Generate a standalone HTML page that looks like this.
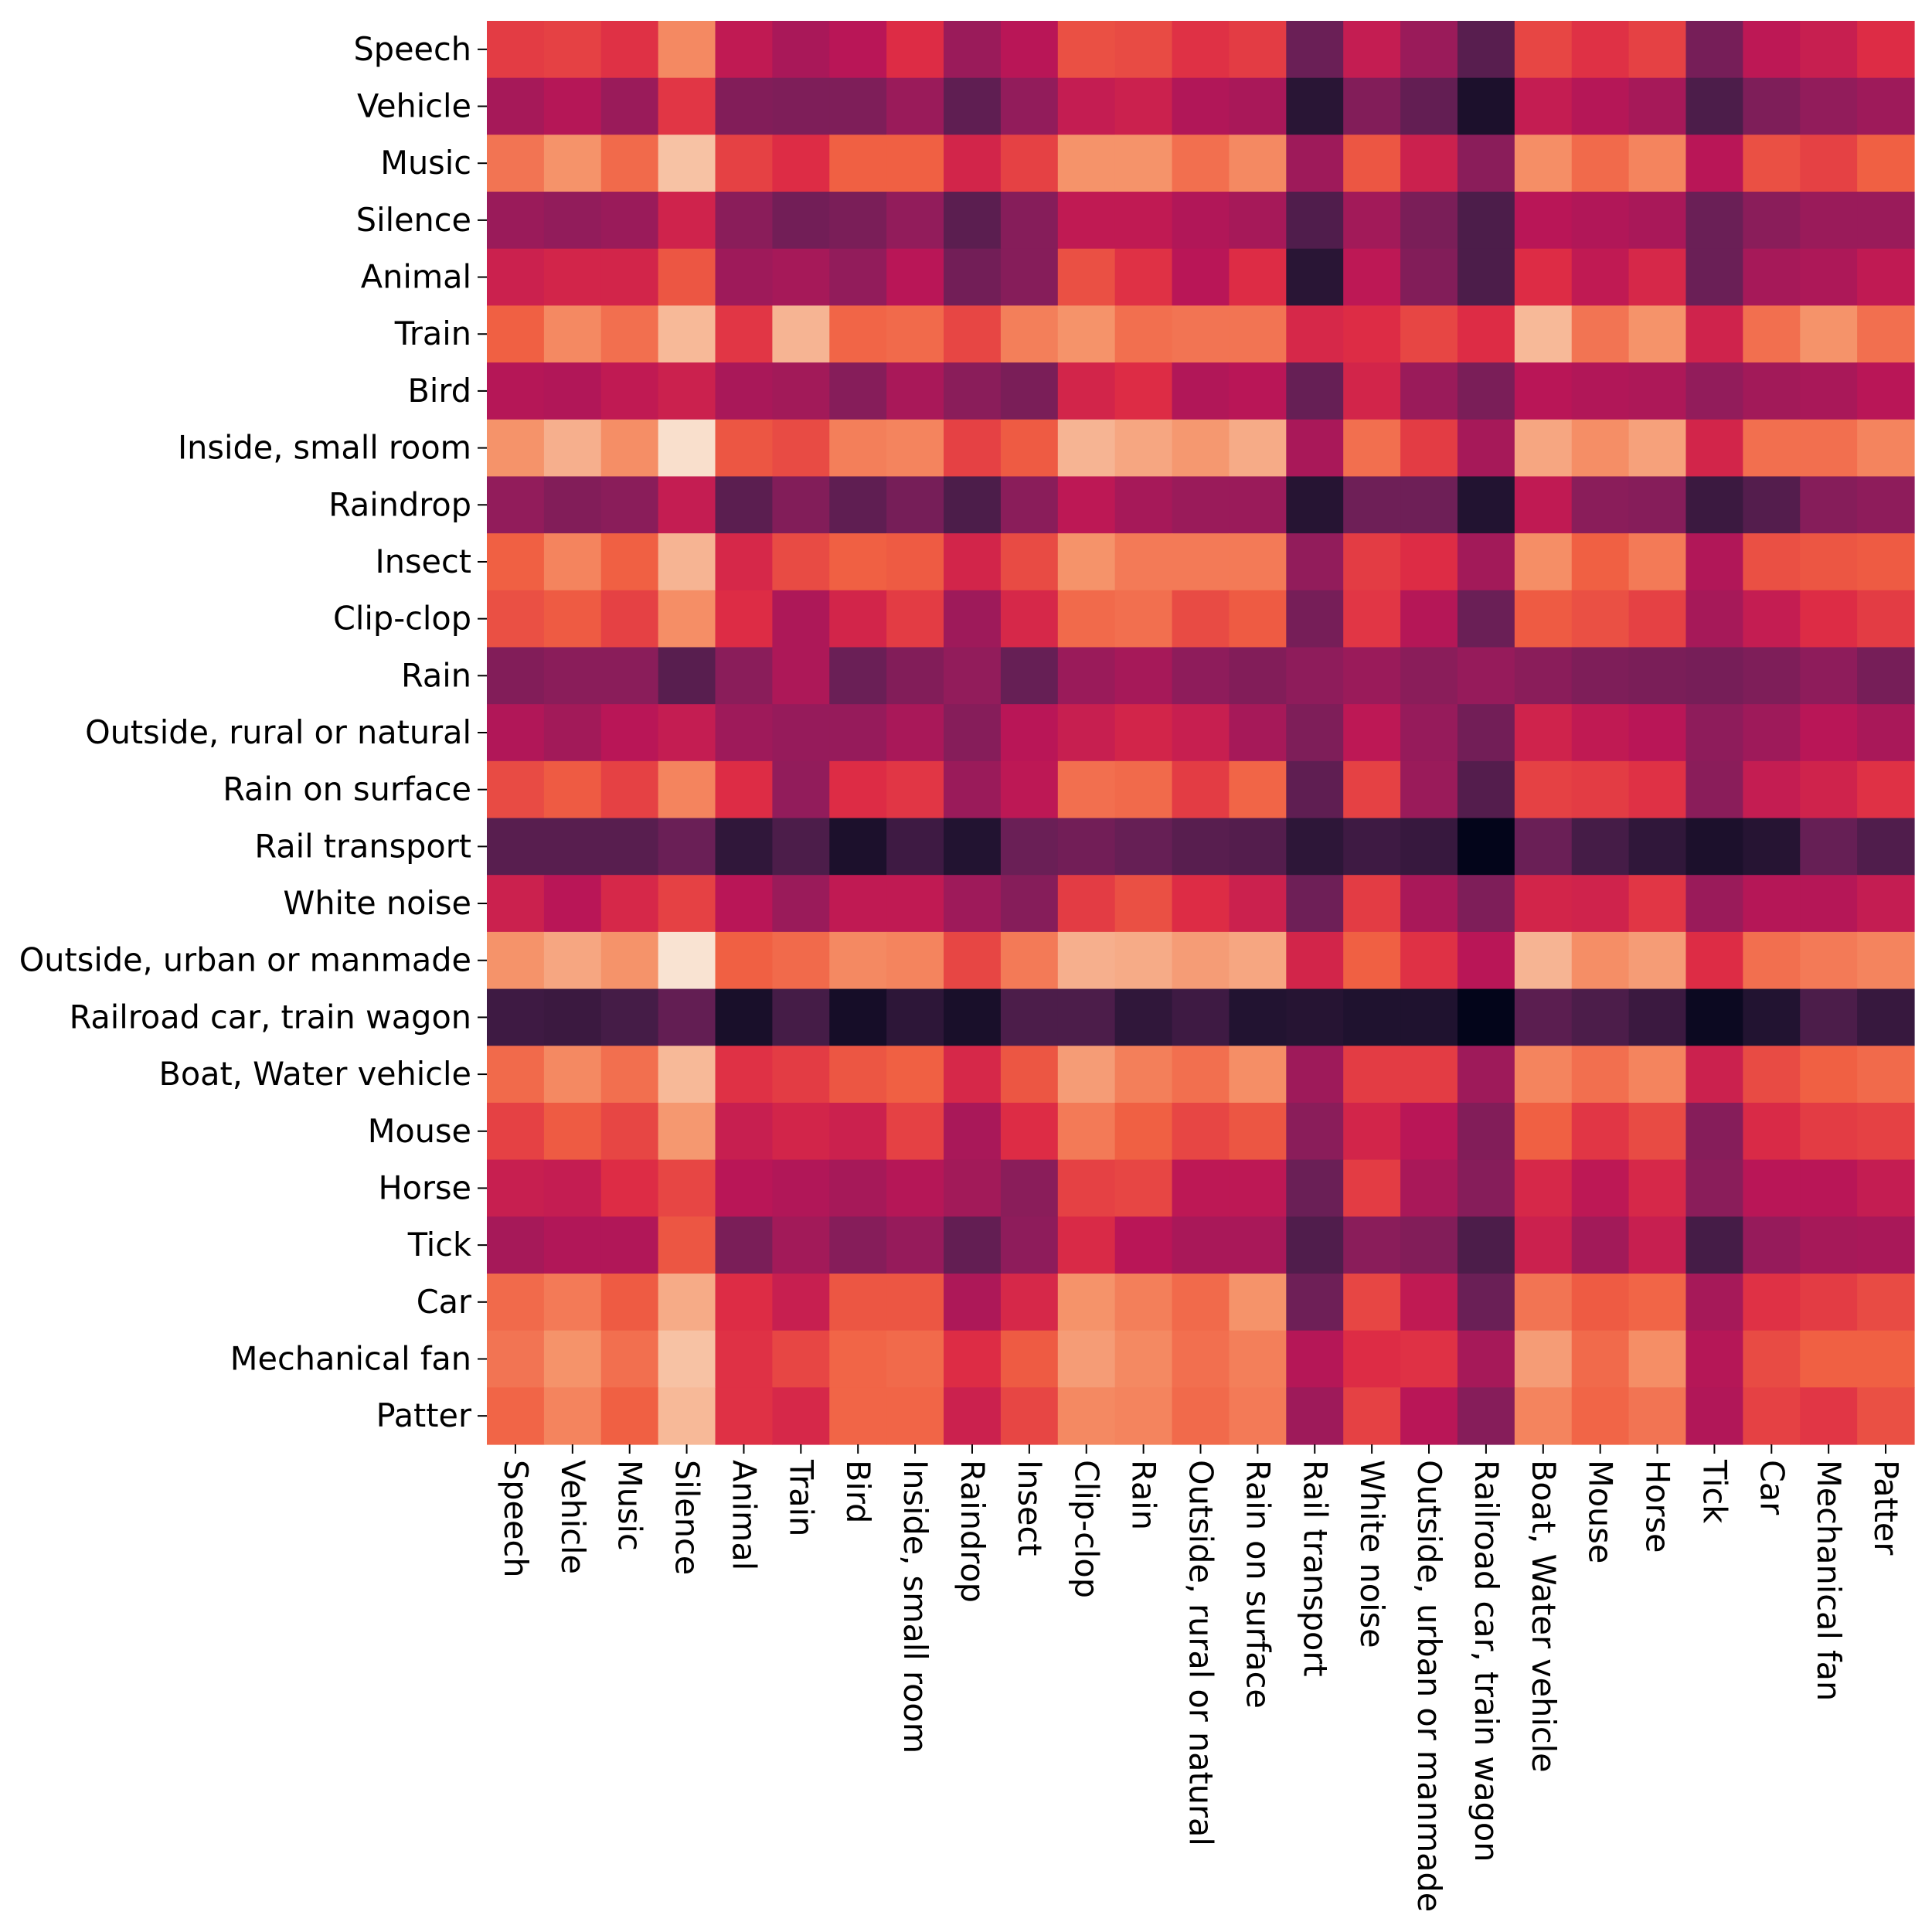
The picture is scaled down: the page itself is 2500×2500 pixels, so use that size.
<!DOCTYPE html>
<html><head><meta charset="utf-8"><style>
html,body{margin:0;padding:0;background:#fff;}
svg{display:block;}
text{font-family:"DejaVu Sans","Liberation Sans",sans-serif;font-size:41.4px;fill:#000;}
</style></head><body>
<svg id="chart" width="2500" height="2500" xmlns="http://www.w3.org/2000/svg">
<g id="cells"></g>
<g id="yaxis"></g>
<g id="xaxis"></g>
</svg>
<script>
const labels = ["Speech","Vehicle","Music","Silence","Animal","Train","Bird","Inside, small room","Raindrop","Insect","Clip-clop","Rain","Outside, rural or natural","Rain on surface","Rail transport","White noise","Outside, urban or manmade","Railroad car, train wagon","Boat, Water vehicle","Mouse","Horse","Tick","Car","Mechanical fan","Patter"];
const rowSpeech   = [0.63,0.64,0.61,0.78,0.52,0.46,0.5,0.6,0.42,0.5,0.67,0.66,0.61,0.63,0.3,0.53,0.42,0.25,0.65,0.61,0.64,0.33,0.51,0.54,0.6];
const rowVehicle  = [0.45,0.49,0.42,0.62,0.36,0.35,0.35,0.42,0.27,0.4,0.53,0.55,0.48,0.46,0.12,0.36,0.28,0.08,0.53,0.49,0.45,0.22,0.35,0.4,0.43];
const rowMusic    = [0.74,0.8,0.72,0.9,0.64,0.6,0.7,0.7,0.57,0.64,0.8,0.8,0.73,0.78,0.43,0.68,0.55,0.38,0.79,0.72,0.77,0.5,0.67,0.64,0.7];
const rowSilence  = [0.42,0.4,0.42,0.56,0.38,0.32,0.34,0.4,0.26,0.37,0.52,0.52,0.48,0.45,0.23,0.44,0.34,0.22,0.5,0.48,0.46,0.3,0.38,0.42,0.42];
const rowAnimal   = [0.55,0.57,0.57,0.68,0.43,0.45,0.4,0.5,0.32,0.37,0.67,0.61,0.5,0.6,0.12,0.51,0.36,0.22,0.6,0.52,0.58,0.3,0.45,0.47,0.52];
const rowTrain    = [0.7,0.78,0.73,0.88,0.62,0.87,0.71,0.72,0.65,0.76,0.8,0.73,0.74,0.74,0.58,0.6,0.65,0.6,0.88,0.74,0.8,0.56,0.73,0.8,0.73];
const rowBird     = [0.49,0.48,0.52,0.55,0.46,0.44,0.37,0.46,0.38,0.34,0.57,0.6,0.48,0.5,0.29,0.57,0.42,0.34,0.5,0.48,0.47,0.4,0.44,0.46,0.5];
const rowInside   = [0.8,0.86,0.79,0.97,0.68,0.66,0.76,0.77,0.64,0.69,0.87,0.84,0.81,0.85,0.46,0.73,0.63,0.45,0.84,0.79,0.83,0.57,0.73,0.73,0.77];
const rowRaindrop = [0.4,0.36,0.38,0.53,0.26,0.36,0.27,0.33,0.22,0.38,0.51,0.45,0.42,0.42,0.11,0.31,0.31,0.1,0.52,0.38,0.37,0.17,0.24,0.37,0.39];
const rowInsect   = [0.7,0.77,0.7,0.87,0.58,0.66,0.7,0.69,0.57,0.66,0.8,0.75,0.75,0.75,0.4,0.63,0.6,0.44,0.79,0.7,0.75,0.48,0.67,0.68,0.69];
const rowClipclop = [0.67,0.69,0.64,0.79,0.6,0.47,0.57,0.63,0.43,0.58,0.72,0.73,0.66,0.69,0.33,0.62,0.49,0.3,0.69,0.67,0.64,0.45,0.53,0.6,0.63];
const rowRain     = [0.36,0.38,0.38,0.25,0.38,0.47,0.3,0.36,0.4,0.29,0.42,0.45,0.39,0.36,0.39,0.42,0.38,0.41,0.38,0.35,0.34,0.33,0.35,0.39,0.33];
const rowOutRural = [0.48,0.44,0.5,0.53,0.43,0.41,0.41,0.46,0.37,0.5,0.54,0.57,0.54,0.45,0.35,0.51,0.41,0.32,0.56,0.52,0.5,0.39,0.43,0.5,0.46];
const rowRainSurf = [0.66,0.69,0.64,0.77,0.6,0.4,0.6,0.62,0.42,0.51,0.73,0.72,0.63,0.71,0.27,0.64,0.42,0.24,0.64,0.63,0.61,0.38,0.53,0.56,0.61];
const rowRailT    = [0.25,0.25,0.25,0.3,0.14,0.22,0.08,0.18,0.1,0.3,0.32,0.29,0.25,0.24,0.13,0.18,0.16,0.0,0.3,0.2,0.14,0.08,0.11,0.29,0.23];
const rowWhiteN   = [0.55,0.5,0.58,0.64,0.5,0.42,0.52,0.52,0.43,0.37,0.63,0.67,0.6,0.55,0.31,0.63,0.46,0.35,0.57,0.56,0.62,0.42,0.49,0.49,0.53];
const rowOutUrban = [0.8,0.84,0.8,0.98,0.7,0.72,0.78,0.77,0.65,0.75,0.86,0.85,0.82,0.84,0.57,0.7,0.61,0.5,0.87,0.79,0.82,0.6,0.73,0.75,0.77];
const rowRailroad = [0.18,0.17,0.2,0.28,0.07,0.2,0.06,0.13,0.07,0.22,0.22,0.14,0.18,0.1,0.11,0.09,0.09,0.0,0.26,0.22,0.17,0.03,0.1,0.22,0.16];
const rowBoat     = [0.72,0.78,0.73,0.88,0.61,0.63,0.68,0.7,0.58,0.68,0.82,0.76,0.73,0.79,0.43,0.63,0.63,0.43,0.77,0.73,0.77,0.55,0.66,0.7,0.72];
const rowMouse    = [0.64,0.69,0.65,0.81,0.54,0.57,0.55,0.64,0.46,0.6,0.75,0.7,0.65,0.68,0.38,0.57,0.5,0.36,0.7,0.62,0.66,0.37,0.59,0.63,0.64];
const rowHorse    = [0.54,0.53,0.6,0.65,0.5,0.48,0.45,0.49,0.44,0.38,0.64,0.65,0.51,0.51,0.3,0.63,0.46,0.37,0.58,0.51,0.58,0.38,0.5,0.5,0.53];
const rowTick     = [0.45,0.48,0.48,0.68,0.34,0.44,0.37,0.41,0.28,0.39,0.59,0.5,0.46,0.46,0.23,0.38,0.36,0.22,0.55,0.44,0.54,0.2,0.41,0.45,0.46];
const rowCar      = [0.72,0.75,0.69,0.85,0.6,0.54,0.68,0.68,0.47,0.58,0.8,0.76,0.72,0.8,0.31,0.65,0.52,0.3,0.74,0.69,0.71,0.45,0.61,0.63,0.66];
const rowMechFan  = [0.74,0.8,0.73,0.9,0.61,0.65,0.71,0.72,0.6,0.69,0.82,0.78,0.73,0.76,0.49,0.6,0.61,0.45,0.82,0.72,0.79,0.49,0.66,0.7,0.7];
const rowPatter   = [0.71,0.77,0.7,0.88,0.61,0.58,0.71,0.71,0.55,0.65,0.78,0.77,0.72,0.75,0.43,0.64,0.5,0.37,0.77,0.71,0.74,0.48,0.64,0.62,0.67];
const matrix = [rowSpeech,rowVehicle,rowMusic,rowSilence,rowAnimal,rowTrain,rowBird,rowInside,rowRaindrop,rowInsect,rowClipclop,rowRain,rowOutRural,rowRainSurf,rowRailT,rowWhiteN,rowOutUrban,rowRailroad,rowBoat,rowMouse,rowHorse,rowTick,rowCar,rowMechFan,rowPatter];

const rocket = [[3,5,26],[34,19,49],[69,28,71],[106,31,86],[146,28,91],[185,22,87],[221,44,69],[240,96,67],[245,147,106],[247,194,164],[250,235,221]];
function color(v){
  v=Math.max(0,Math.min(1,v));
  const p=v*10, i=Math.min(9,Math.floor(p)), t=p-i;
  const a=rocket[i], b=rocket[i+1];
  return 'rgb('+a.map((c,k)=>Math.round(c+(b[k]-c)*t)).join(',')+')';
}
const L=630, T=27, R=2477, B=1869;
const n=labels.length;
const cw=(R-L)/n, ch=(B-T)/n;
const xPos=j=>L+j*cw, yPos=i=>T+i*ch;
const NS='http://www.w3.org/2000/svg';
const cells=document.getElementById('cells');
const yaxis=document.getElementById('yaxis');
const xaxis=document.getElementById('xaxis');
matrix.forEach((row,i)=>row.forEach((v,j)=>{
  const r=document.createElementNS(NS,'rect');
  r.setAttribute('x',xPos(j)); r.setAttribute('y',yPos(i));
  r.setAttribute('width',cw+0.6); r.setAttribute('height',ch+0.6);
  r.setAttribute('fill',color(v));
  
  
  cells.appendChild(r);
}));
labels.forEach((lab,i)=>{
  const cy=yPos(i)+ch/2;
  const tk=document.createElementNS(NS,'line');
  tk.setAttribute('x1',L-12); tk.setAttribute('x2',L); tk.setAttribute('y1',cy); tk.setAttribute('y2',cy);
  tk.setAttribute('stroke','#000'); tk.setAttribute('stroke-width','2');
  
  
  yaxis.appendChild(tk);
  const t=document.createElementNS(NS,'text');
  t.setAttribute('x',L-20); t.setAttribute('y',cy);
  t.setAttribute('text-anchor','end'); t.setAttribute('dominant-baseline','central');
  t.textContent=lab;
  
  
  yaxis.appendChild(t);
});
labels.forEach((lab,j)=>{
  const cx=xPos(j)+cw/2;
  const tk=document.createElementNS(NS,'line');
  tk.setAttribute('x1',cx); tk.setAttribute('x2',cx); tk.setAttribute('y1',B); tk.setAttribute('y2',B+12);
  tk.setAttribute('stroke','#000'); tk.setAttribute('stroke-width','2');
  
  
  xaxis.appendChild(tk);
  const t=document.createElementNS(NS,'text');
  t.setAttribute('transform','translate('+cx+','+(B+20)+') rotate(90)');
  t.setAttribute('text-anchor','start'); t.setAttribute('dominant-baseline','central');
  t.textContent=lab;
  
  
  xaxis.appendChild(t);
});
</script>
</body></html>
